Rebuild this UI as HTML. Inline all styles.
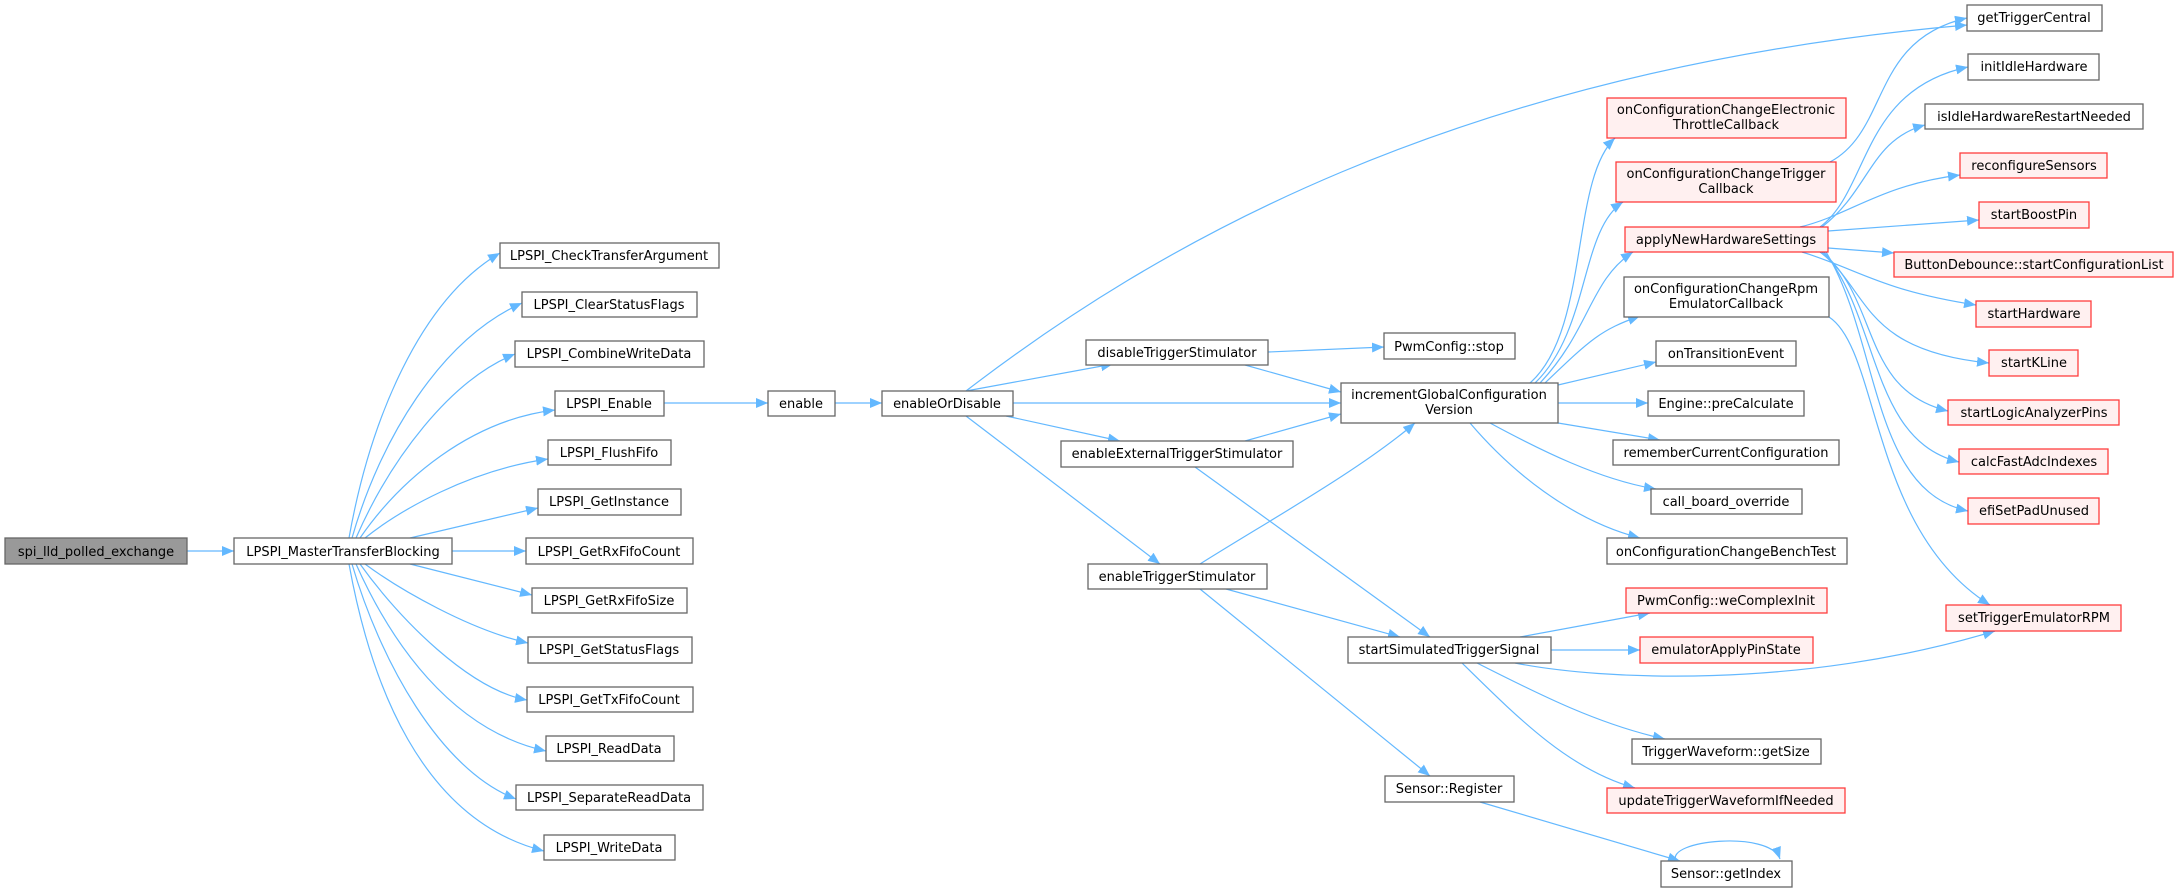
<!DOCTYPE html>
<html><head><meta charset="utf-8"><style>
html,body{margin:0;padding:0;background:#fff;}
svg{display:block}
text{font-family:"DejaVu Sans","Liberation Sans",sans-serif;font-size:13px;fill:#000;text-anchor:middle}
.b{fill:#fff;stroke:#666;stroke-width:1.3}
.r{fill:#fff0f0;stroke:#ff0000;stroke-width:1.3;stroke-opacity:.75}
.g{fill:#999;stroke:#666;stroke-width:1.3}
.e{fill:none;stroke:#63b8ff;stroke-width:1.2;marker-end:url(#a)}
</style></head><body>
<svg width="2179" height="892" viewBox="0 0 2179 892" xmlns="http://www.w3.org/2000/svg">
<defs><marker id="a" markerUnits="userSpaceOnUse" markerWidth="14" markerHeight="12" refX="12" refY="5" orient="auto"><path d="M0,0 L12,5 L0,10 z" fill="#63b8ff"/></marker></defs>

<!-- edges -->
<path class="e" d="M187,551 L234,551"/>
<path class="e" d="M349,538 C370,420 420,300 500,253"/>
<path class="e" d="M352,538 C380,440 440,340 522,303"/>
<path class="e" d="M356,538 C390,460 450,380 515,354"/>
<path class="e" d="M360,538 C400,480 470,420 555,410"/>
<path class="e" d="M365,538 C400,510 470,470 548,459"/>
<path class="e" d="M410,538 L538,508"/>
<path class="e" d="M452,551 L526,551"/>
<path class="e" d="M410,564 L532,595"/>
<path class="e" d="M365,564 C400,590 470,630 528,643"/>
<path class="e" d="M360,564 C400,620 470,690 527,700"/>
<path class="e" d="M356,564 C390,640 450,730 546,751"/>
<path class="e" d="M352,564 C380,660 440,770 516,799"/>
<path class="e" d="M349,564 C370,680 420,820 544,851"/>

<path class="e" d="M664,403 L768,403"/>
<path class="e" d="M835,403 L882,403"/>
<path class="e" d="M966,391 C1150,250 1450,70 1967,25"/>
<path class="e" d="M966,391 L1113,364"/>
<path class="e" d="M1013,403 L1341,403"/>
<path class="e" d="M1006,416 L1120,441"/>
<path class="e" d="M966,416 L1160,564"/>
<path class="e" d="M1268,352 L1384,347"/>
<path class="e" d="M1245,365 L1341,392"/>
<path class="e" d="M1245,441 L1341,414"/>
<path class="e" d="M1195,467 L1430,637"/>
<path class="e" d="M1200,564 C1270,520 1360,470 1415,423"/>
<path class="e" d="M1226,589 L1400,637"/>
<path class="e" d="M1200,589 L1430,776"/>

<path class="e" d="M1530,383 C1590,330 1570,180 1615,138"/>
<path class="e" d="M1535,383 C1590,330 1580,230 1623,202"/>
<path class="e" d="M1540,383 C1590,330 1590,280 1633,252"/>
<path class="e" d="M1545,383 C1590,340 1600,330 1640,316"/>
<path class="e" d="M1558,385 L1656,362"/>
<path class="e" d="M1558,403 L1648,403"/>
<path class="e" d="M1558,423 L1660,440"/>
<path class="e" d="M1490,423 C1540,450 1600,480 1656,489"/>
<path class="e" d="M1470,423 C1510,470 1570,520 1640,538"/>

<path class="e" d="M1830,162 C1890,130 1870,40 1967,18"/>
<path class="e" d="M1820,227 C1870,190 1860,90 1968,67"/>
<path class="e" d="M1822,227 C1870,190 1870,140 1925,125"/>
<path class="e" d="M1800,227 C1850,215 1880,185 1960,175"/>
<path class="e" d="M1828,231 L1979,220"/>
<path class="e" d="M1828,248 L1894,253"/>
<path class="e" d="M1802,252 C1860,270 1880,290 1976,305"/>
<path class="e" d="M1820,252 C1870,290 1860,350 1989,363"/>
<path class="e" d="M1822,252 C1880,300 1860,390 1948,411"/>
<path class="e" d="M1824,252 C1880,320 1870,440 1959,462"/>
<path class="e" d="M1826,252 C1880,340 1870,490 1968,511"/>
<path class="e" d="M1829,317 C1880,350 1870,530 1990,605"/>
<path class="e" d="M1520,637 L1650,613"/>
<path class="e" d="M1551,650 L1640,650"/>
<path class="e" d="M1515,663 C1600,680 1800,690 1995,631"/>
<path class="e" d="M1477,663 C1540,695 1600,725 1665,739"/>
<path class="e" d="M1462,663 C1520,720 1570,770 1635,788"/>
<path class="e" d="M1480,802 L1680,861"/>
<path class="e" d="M1676,861 C1665,840 1770,830 1780,859"/>

<!-- nodes -->
<rect class="g" x="5" y="538" width="182" height="26"/><text x="96" y="556">spi_lld_polled_exchange</text>
<rect class="b" x="234" y="538" width="218" height="26"/><text x="343" y="556">LPSPI_MasterTransferBlocking</text>
<rect class="b" x="500" y="243" width="219" height="25"/><text x="609" y="260">LPSPI_CheckTransferArgument</text>
<rect class="b" x="522" y="292" width="175" height="25"/><text x="609" y="309">LPSPI_ClearStatusFlags</text>
<rect class="b" x="515" y="341" width="189" height="26"/><text x="609" y="358">LPSPI_CombineWriteData</text>
<rect class="b" x="555" y="391" width="109" height="25"/><text x="609" y="408">LPSPI_Enable</text>
<rect class="b" x="548" y="440" width="123" height="25"/><text x="609" y="457">LPSPI_FlushFifo</text>
<rect class="b" x="538" y="489" width="143" height="26"/><text x="609" y="506">LPSPI_GetInstance</text>
<rect class="b" x="526" y="538" width="167" height="26"/><text x="609" y="556">LPSPI_GetRxFifoCount</text>
<rect class="b" x="532" y="588" width="155" height="25"/><text x="609" y="605">LPSPI_GetRxFifoSize</text>
<rect class="b" x="528" y="637" width="164" height="26"/><text x="609" y="654">LPSPI_GetStatusFlags</text>
<rect class="b" x="527" y="687" width="166" height="25"/><text x="609" y="704">LPSPI_GetTxFifoCount</text>
<rect class="b" x="546" y="736" width="128" height="25"/><text x="609" y="753">LPSPI_ReadData</text>
<rect class="b" x="516" y="785" width="187" height="25"/><text x="609" y="802">LPSPI_SeparateReadData</text>
<rect class="b" x="544" y="835" width="131" height="25"/><text x="609" y="852">LPSPI_WriteData</text>

<rect class="b" x="768" y="391" width="67" height="25"/><text x="801" y="408">enable</text>
<rect class="b" x="882" y="391" width="131" height="25"/><text x="947" y="408">enableOrDisable</text>
<rect class="b" x="1086" y="340" width="182" height="25"/><text x="1177" y="357">disableTriggerStimulator</text>
<rect class="b" x="1061" y="441" width="232" height="26"/><text x="1177" y="458">enableExternalTriggerStimulator</text>
<rect class="b" x="1088" y="564" width="179" height="25"/><text x="1177" y="581">enableTriggerStimulator</text>
<rect class="b" x="1384" y="333" width="131" height="26"/><text x="1449" y="351">PwmConfig::stop</text>
<rect class="b" x="1341" y="383" width="217" height="40"/><text x="1449" y="399">incrementGlobalConfiguration</text><text x="1449" y="414">Version</text>
<rect class="b" x="1348" y="637" width="203" height="26"/><text x="1449" y="654">startSimulatedTriggerSignal</text>
<rect class="b" x="1385" y="776" width="129" height="26"/><text x="1449" y="793">Sensor::Register</text>

<rect class="r" x="1607" y="98" width="239" height="40"/><text x="1726" y="114">onConfigurationChangeElectronic</text><text x="1726" y="129">ThrottleCallback</text>
<rect class="r" x="1616" y="162" width="220" height="40"/><text x="1726" y="178">onConfigurationChangeTrigger</text><text x="1726" y="193">Callback</text>
<rect class="r" x="1625" y="227" width="203" height="25"/><text x="1726" y="244">applyNewHardwareSettings</text>
<rect class="b" x="1624" y="277" width="205" height="40"/><text x="1726" y="293">onConfigurationChangeRpm</text><text x="1726" y="308">EmulatorCallback</text>
<rect class="b" x="1656" y="341" width="140" height="25"/><text x="1726" y="358">onTransitionEvent</text>
<rect class="b" x="1648" y="391" width="156" height="25"/><text x="1726" y="408">Engine::preCalculate</text>
<rect class="b" x="1613" y="440" width="226" height="25"/><text x="1726" y="457">rememberCurrentConfiguration</text>
<rect class="b" x="1651" y="489" width="151" height="25"/><text x="1726" y="506">call_board_override</text>
<rect class="b" x="1607" y="538" width="240" height="26"/><text x="1726" y="556">onConfigurationChangeBenchTest</text>
<rect class="r" x="1626" y="588" width="201" height="25"/><text x="1726" y="605">PwmConfig::weComplexInit</text>
<rect class="r" x="1640" y="637" width="173" height="26"/><text x="1726" y="654">emulatorApplyPinState</text>
<rect class="b" x="1632" y="739" width="189" height="25"/><text x="1726" y="756">TriggerWaveform::getSize</text>
<rect class="r" x="1607" y="788" width="238" height="25"/><text x="1726" y="805">updateTriggerWaveformIfNeeded</text>
<rect class="b" x="1661" y="861" width="131" height="26"/><text x="1726" y="878">Sensor::getIndex</text>

<rect class="b" x="1967" y="5" width="135" height="26"/><text x="2034" y="22">getTriggerCentral</text>
<rect class="b" x="1968" y="54" width="131" height="26"/><text x="2034" y="71">initIdleHardware</text>
<rect class="b" x="1925" y="104" width="218" height="25"/><text x="2034" y="121">isIdleHardwareRestartNeeded</text>
<rect class="r" x="1960" y="153" width="147" height="25"/><text x="2034" y="170">reconfigureSensors</text>
<rect class="r" x="1979" y="202" width="110" height="26"/><text x="2034" y="219">startBoostPin</text>
<rect class="r" x="1894" y="252" width="279" height="25"/><text x="2034" y="269">ButtonDebounce::startConfigurationList</text>
<rect class="r" x="1976" y="301" width="115" height="26"/><text x="2034" y="318">startHardware</text>
<rect class="r" x="1989" y="350" width="89" height="26"/><text x="2034" y="367">startKLine</text>
<rect class="r" x="1948" y="400" width="171" height="25"/><text x="2034" y="417">startLogicAnalyzerPins</text>
<rect class="r" x="1959" y="449" width="149" height="25"/><text x="2034" y="466">calcFastAdcIndexes</text>
<rect class="r" x="1968" y="498" width="131" height="26"/><text x="2034" y="515">efiSetPadUnused</text>
<rect class="r" x="1946" y="605" width="175" height="26"/><text x="2034" y="622">setTriggerEmulatorRPM</text>
</svg>
</body></html>
